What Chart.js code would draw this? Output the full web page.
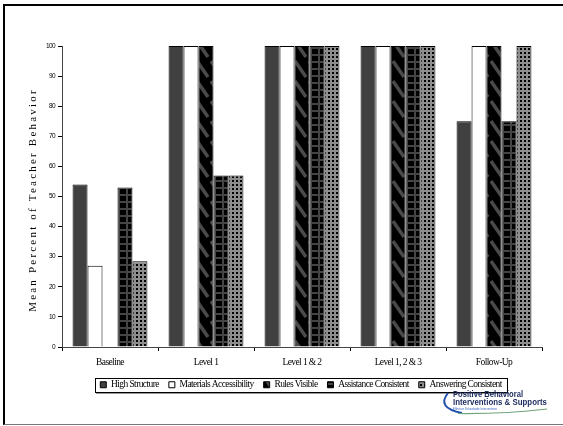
<!DOCTYPE html>
<html>
<head>
<meta charset="utf-8">
<script src="https://cdn.jsdelivr.net/npm/chart.js@4.4.1/dist/chart.umd.min.js"></script>
<style>
  html, body { margin: 0; padding: 0; background: #fff; }
  #wrap { position: relative; width: 563px; height: 426px; }
  #frame { position: absolute; left: 3px; top: 4px; width: 562px; height: 421px;
           border-left: 2px solid #000; border-top: 2px solid #000; border-bottom: 1px solid #777;
           box-sizing: border-box; pointer-events: none; }
</style>
</head>
<body>
<div id="wrap">
  <canvas id="chart-behavior" width="563" height="426"></canvas>
  <div id="frame"></div>
</div>
<script>
const categories = ['Baseline', 'Level 1', 'Level 1 & 2', 'Level 1, 2 & 3', 'Follow-Up'];
const seriesNames = ['High Structure', 'Materials Accessibility', 'Rules Visible', 'Assistance Consistent', 'Answering Consistent'];
const highStructure = [54, 100, 100, 100, 75];
const materialsAccessibility = [27, 100, 100, 100, 100];
const rulesVisible = [0, 100, 100, 100, 100];
const assistanceConsistent = [53, 57, 100, 100, 75];
const answeringConsistent = [28.5, 57, 100, 100, 100];
const yTicks = [0, 10, 20, 30, 40, 50, 60, 70, 80, 90, 100];
const yTitle = 'Mean Percent of Teacher Behavior';

// small tiles for the hatched fills
const makePattern = (w, h, paint) => {
    const c = document.createElement('canvas');
    c.width = w;
    c.height = h;
    const g = c.getContext('2d');
    paint(g);
    return document.getElementById('chart-behavior').getContext('2d').createPattern(c, 'repeat');
}

const diagPattern = makePattern(14, 20, g => {
    g.fillStyle = '#000';
    g.fillRect(0, 0, 14, 20);
    g.strokeStyle = '#4a4a4a';
    g.lineWidth = 3.5;
    g.beginPath();
    g.moveTo(1, 1);
    g.lineTo(12, 17);
    g.stroke();
});

const gridPattern = makePattern(8, 7, g => {
    g.fillStyle = '#000';
    g.fillRect(0, 0, 8, 7);
    g.fillStyle = '#444';
    g.fillRect(6, 0, 2, 7);
    g.fillRect(0, 5, 8, 2);
});

const dotPattern = makePattern(4, 4, g => {
    g.fillStyle = '#8e8e8e';
    g.fillRect(0, 0, 4, 4);
    g.fillStyle = '#000';
    g.fillRect(0, 0, 2, 2);
});

// the old figure uses narrow type everywhere
const squeeze = chart => { chart.ctx.letterSpacing = '-0.6px'; };

const extrasPlugin = {
    id: 'extras',
    beforeUpdate: squeeze,
    beforeDraw: squeeze,
    afterLayout(chart) {
        // centre the legend under the plot, not under the canvas
        chart.legend.left += 30;
        chart.legend.right += 30;
    },
    afterDraw(chart) {
        const ctx = chart.ctx;
        ctx.save();

        // y axis title
        ctx.translate(33, 200);
        ctx.rotate(-Math.PI / 2);
        ctx.font = '11px "Liberation Serif"';
        ctx.letterSpacing = '2.2px';
        ctx.fillStyle = '#000';
        ctx.textAlign = 'center';
        ctx.textBaseline = 'middle';
        ctx.fillText(yTitle, 0, 0);
        ctx.restore();

        // frame round the legend
        const lg = chart.legend;
        if (lg && lg.legendHitBoxes.length) {
            const boxes = lg.legendHitBoxes;
            const l = Math.min(...boxes.map(b => b.left)) - 5;
            const r = Math.max(...boxes.map(b => b.left + b.width)) + 6;
            const t = boxes[0].top - 2;
            const b = boxes[0].top + boxes[0].height + 2;
            ctx.save();
            ctx.strokeStyle = '#000';
            ctx.lineWidth = 1;
            ctx.strokeRect(Math.round(l) + 0.5, Math.round(t) + 0.5, Math.round(r - l), Math.round(b - t));
            ctx.strokeStyle = '#999';
            ctx.beginPath();
            ctx.moveTo(Math.round(l) + 1, Math.round(b) + 1.5);
            ctx.lineTo(Math.round(r) + 1, Math.round(b) + 1.5);
            ctx.stroke();
            ctx.restore();
        }

        // logo in the lower right corner
        ctx.save();
        ctx.letterSpacing = '0px';
        ctx.strokeStyle = '#1f4fa8';
        ctx.lineWidth = 2;
        ctx.beginPath();
        ctx.moveTo(448, 393);
        ctx.quadraticCurveTo(436, 408, 462, 413);
        ctx.stroke();
        ctx.strokeStyle = '#6fa37a';
        ctx.lineWidth = 1.2;
        ctx.beginPath();
        ctx.moveTo(458, 413.5);
        ctx.quadraticCurveTo(505, 414, 547, 409);
        ctx.stroke();
        ctx.fillStyle = '#1b2a5e';
        ctx.textBaseline = 'alphabetic';
        ctx.font = 'bold 9px "Liberation Sans"';
        ctx.fillText('Positive Behavioral', 453, 397, 70);
        ctx.fillText('Interventions & Supports', 453, 405, 94);
        ctx.fillStyle = '#3a62c0';
        ctx.font = '4px "Liberation Sans"';
        ctx.fillText('Effective Schoolwide Interventions', 453, 409.5, 44);
        ctx.restore();
    }
};

const ctx = document.getElementById('chart-behavior').getContext('2d');
new Chart(ctx, {
    type: 'bar',
    data: {
        labels: categories,
        datasets: [
            { label: seriesNames[0], data: highStructure, backgroundColor: '#404040' },
            { label: seriesNames[1], data: materialsAccessibility, backgroundColor: '#ffffff' },
            { label: seriesNames[2], data: rulesVisible, backgroundColor: diagPattern },
            { label: seriesNames[3], data: assistanceConsistent, backgroundColor: gridPattern },
            { label: seriesNames[4], data: answeringConsistent, backgroundColor: dotPattern }
        ].map(ds => Object.assign(ds, {
            borderColor: '#000',
            borderWidth: 1,
            categoryPercentage: 0.78,
            barPercentage: 1.0
        }))
    },
    options: {
        responsive: false,
        animation: false,
        devicePixelRatio: 1,
        layout: { padding: { left: 0, right: 21, top: 46, bottom: 26.5 } },
        plugins: {
            legend: {
                display: true,
                position: 'bottom',
                labels: {
                    boxWidth: 6,
                    boxHeight: 6,
                    padding: 10,
                    color: '#000',
                    font: { family: '"Liberation Serif"', size: 9.5 }
                }
            },
            tooltip: { enabled: false }
        },
        scales: {
            x: {
                grid: { display: true, offset: true, drawOnChartArea: false, drawTicks: true, tickLength: 4, color: '#000' },
                border: { color: '#444', width: 1 },
                ticks: { color: '#000', padding: 6, maxRotation: 0, font: { family: '"Liberation Serif"', size: 9.5 } },
                afterFit: s => { s.height = 23; }
            },
            y: {
                min: 0,
                max: 100,
                afterBuildTicks: s => { s.ticks = yTicks.map(v => ({ value: v })); },
                grid: { display: true, drawOnChartArea: false, drawTicks: true, tickLength: 4, color: '#000' },
                border: { color: '#444', width: 1 },
                ticks: { color: '#000', padding: 3, font: { family: '"Liberation Sans"', size: 6.5 } },
                afterFit: s => { s.width = 62; }
            }
        }
    },
    plugins: [extrasPlugin]
});
</script>
</body>
</html>
